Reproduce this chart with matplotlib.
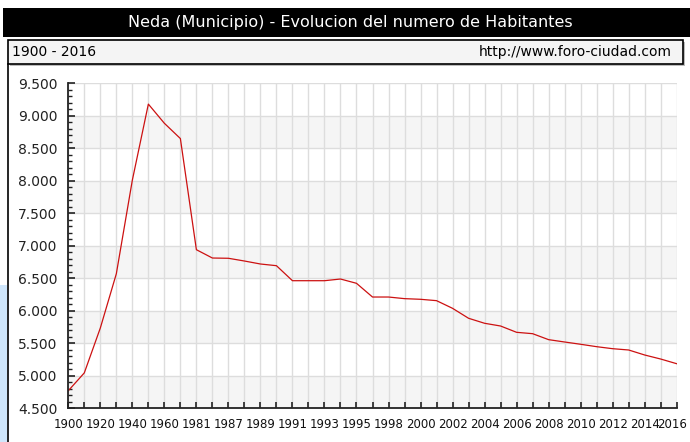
import matplotlib
matplotlib.use('Agg')
import matplotlib.pyplot as plt
import matplotlib.transforms as mtransforms
from matplotlib.patches import Rectangle
from matplotlib.ticker import FixedLocator, FuncFormatter, MultipleLocator

years = ['1900', '1910', '1920', '1930', '1940', '1950', '1960', '1970',
         '1981', '1986', '1987', '1988', '1989', '1990', '1991', '1992',
         '1993', '1994', '1995', '1996', '1998', '1999', '2000', '2001',
         '2002', '2003', '2004', '2005', '2006', '2007', '2008', '2009',
         '2010', '2011', '2012', '2013', '2014', '2015', '2016']
population = [4770, 5045, 5735, 6570, 8010, 9180, 8885, 8650,
              6940, 6812, 6808, 6766, 6720, 6694, 6463, 6463,
              6463, 6489, 6423, 6212, 6212, 6187, 6177, 6156,
              6038, 5885, 5808, 5766, 5669, 5648, 5556, 5520,
              5485, 5448, 5417, 5397, 5320, 5258, 5186]
title = 'Neda (Municipio) - Evolucion del numero de Habitantes'
period = '1900 - 2016'
source = 'http://www.foro-ciudad.com'
y_ticks = [4500, 5000, 5500, 6000, 6500, 7000, 7500, 8000, 8500, 9000, 9500]

W, H = 690, 442
fig = plt.figure(figsize=(W / 100, H / 100), dpi=100)
fig.patch.set_facecolor('white')

def fx(px):
    return px / W

def fy(py):
    return 1 - py / H

# light blue page background at far left
fig.add_artist(Rectangle((0, 0), fx(7), fy(285), transform=fig.transFigure,
                         facecolor='#cfe6fb', edgecolor='none', zorder=0))
# title bar
fig.add_artist(Rectangle((fx(3), fy(37)), 1 - fx(3), (37 - 8) / H, transform=fig.transFigure,
                         facecolor='black', edgecolor='none', zorder=1))
fig.text(fx(350), fy(23), title, color='white', ha='center', va='center',
         fontsize=11.5, family='DejaVu Sans')
# subtitle box with shadow
fig.add_artist(Rectangle((fx(10), fy(66)), fx(675), (66 - 42) / H, transform=fig.transFigure,
                         facecolor='#bbbbbb', edgecolor='none', zorder=1))
fig.add_artist(Rectangle((fx(8), fy(64)), fx(675), (64 - 40) / H, transform=fig.transFigure,
                         facecolor='#f4f4f4', edgecolor='black', linewidth=1.2, zorder=2))
fig.text(fx(12), fy(52), period, ha='left', va='center', fontsize=10, color='black', zorder=3)
fig.text(fx(672), fy(52), source, ha='right', va='center', fontsize=10, color='black', zorder=3)
# left frame line
fig.add_artist(plt.Line2D([fx(8), fx(8)], [0, fy(64)], transform=fig.transFigure,
                          color='black', linewidth=1.2, zorder=2))

ax = fig.add_axes([fx(68.3), fy(408.3), fx(676.7 - 68.3), (408.3 - 83.3) / H])
ax.set_facecolor('white')
x = list(range(len(years)))
ax.set_xlim(0, len(years) - 1)
ax.set_ylim(y_ticks[0], y_ticks[-1])

# alternating bands
for i in range(len(y_ticks) - 1):
    if i % 2 == 0:
        ax.axhspan(y_ticks[i], y_ticks[i + 1], facecolor='#f5f5f5', edgecolor='none', zorder=0)

ax.plot(x, population, color='#cc1111', linewidth=0.9, zorder=3)

ax.xaxis.set_major_locator(FixedLocator(x))
ax.set_xticklabels([y if i % 2 == 0 else '' for i, y in enumerate(years)])
ax.yaxis.set_major_locator(FixedLocator(y_ticks))
ax.yaxis.set_minor_locator(MultipleLocator(100))
ax.yaxis.set_major_formatter(FuncFormatter(lambda v, p: f'{int(v):,}'.replace(',', '.')))

ax.grid(True, which='major', color='#dddddd', linewidth=1.0, zorder=1)
ax.set_axisbelow(True)

for s in ['top', 'right']:
    ax.spines[s].set_visible(False)
for s in ['left', 'bottom']:
    ax.spines[s].set_color('#222222')
    ax.spines[s].set_linewidth(1.3)
    ax.spines[s].set_zorder(4)

ax.tick_params(axis='x', direction='in', length=4, width=1.2, color='#222222',
               labelsize=8.5, labelcolor='#111111', pad=7)
ax.tick_params(axis='y', which='major', direction='in', length=5, width=1.2, color='#222222',
               labelsize=10, labelcolor='#222222', pad=8)
ax.tick_params(axis='y', which='minor', direction='in', length=3, width=1.0, color='#222222')

# nudge the last x label so it stays inside the image
last = ax.get_xticklabels()[-1]
last.set_transform(last.get_transform() + mtransforms.ScaledTranslation(-3 / 72, 0, fig.dpi_scale_trans))

fig.savefig('out.png', dpi=100, facecolor='white')
